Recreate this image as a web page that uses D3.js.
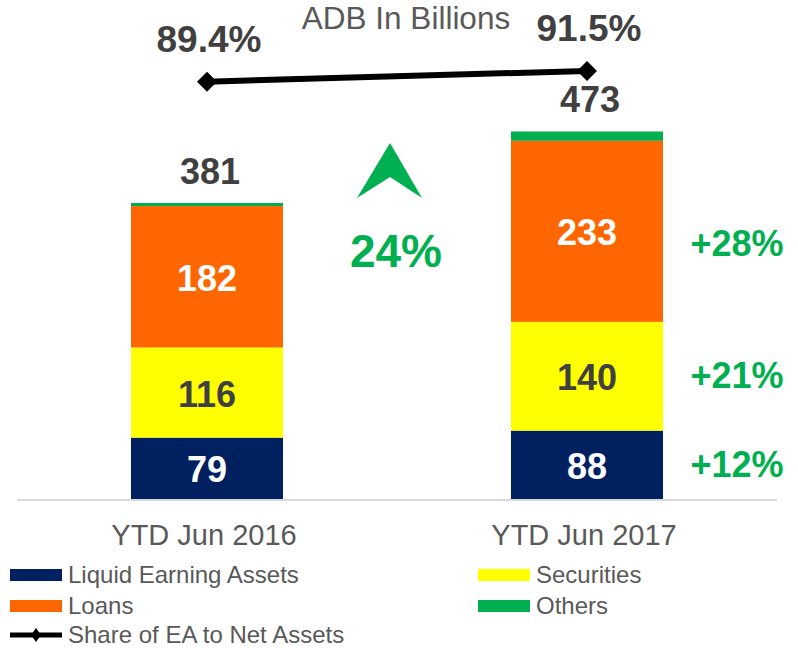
<!DOCTYPE html>
<html>
<head>
<meta charset="utf-8">
<script src="https://cdn.jsdelivr.net/npm/d3@7"></script>
<style>
  body { margin: 0; background: #fff; }
  svg { display: block; }
</style>
</head>
<body>
<script>
const width = 798;
const height = 648;

// data
const periods = ["YTD Jun 2016", "YTD Jun 2017"];
const seriesNames = ["Liquid Earning Assets", "Securities", "Loans", "Others"];
const liquid = [79, 88];
const securities = [116, 140];
const loans = [182, 233];
const others = [4, 12];
const totals = [381, 473];
const shareEA = [89.4, 91.5];
const growthLabels = ["+12%", "+21%", "+28%"];
const totalGrowth = "24%";

const colors = {
  "Liquid Earning Assets": "#002060",
  "Securities": "#ffff00",
  "Loans": "#ff6600",
  "Others": "#00b050"
};
const labelColors = {
  "Liquid Earning Assets": "#fff",
  "Securities": "#404040",
  "Loans": "#fff"
};

const font = "'Liberation Sans', Arial, sans-serif";
const dark = "#404040";
const grey = "#595959";

const rows = periods.map((p, i) => ({
  period: p,
  "Liquid Earning Assets": liquid[i],
  "Securities": securities[i],
  "Loans": loans[i],
  "Others": others[i]
}));

const svg = d3.select("body").append("svg")
  .attr("width", width)
  .attr("height", height)
  .attr("font-family", font);

const x = d3.scaleBand()
  .domain(periods)
  .range([17, 777])
  .paddingInner(0.6)
  .paddingOuter(0.3);

const y = d3.scaleLinear()
  .domain([0, 500])
  .range([499, 110.5]);

const yLine = d3.scaleLinear()
  .domain([80, 100])
  .range([129.6, 27.6]);

const cx = p => x(p) + x.bandwidth() / 2;

const stacked = d3.stack().keys(seriesNames)(rows);

// bars
const layers = svg.append("g").selectAll("g")
  .data(stacked)
  .join("g")
  .attr("fill", d => colors[d.key]);

layers.selectAll("rect")
  .data(d => d)
  .join("rect")
  .attr("x", d => x(d.data.period))
  .attr("width", x.bandwidth())
  .attr("y", d => y(d[1]))
  .attr("height", d => y(d[0]) - y(d[1]));

// segment labels
stacked.filter(s => s.key !== "Others").forEach(s => {
  svg.append("g").selectAll("text")
    .data(s)
    .join("text")
    .attr("x", d => cx(d.data.period))
    .attr("y", d => (y(d[0]) + y(d[1])) / 2 + 14)
    .attr("text-anchor", "middle")
    .attr("font-weight", "bold")
    .attr("font-size", 36)
    .attr("fill", labelColors[s.key])
    .text(d => d[1] - d[0]);
});

// axis line
svg.append("line")
  .attr("x1", 17).attr("x2", 777)
  .attr("y1", y(0) + 1).attr("y2", y(0) + 1)
  .attr("stroke", "#d9d9d9")
  .attr("stroke-width", 2);

// category labels
svg.append("g").selectAll("text")
  .data(periods)
  .join("text")
  .attr("x", d => cx(d) - 3)
  .attr("y", 545)
  .attr("text-anchor", "middle")
  .attr("font-size", 29)
  .attr("fill", grey)
  .text(d => d);

// totals
svg.append("g").selectAll("text")
  .data(totals)
  .join("text")
  .attr("x", (d, i) => cx(periods[i]) + 3)
  .attr("y", d => y(d) - 19)
  .attr("text-anchor", "middle")
  .attr("font-weight", "bold")
  .attr("font-size", 36)
  .attr("fill", dark)
  .text(d => d);

// share line
const diamond = "M0,-10L10,0L0,10L-10,0Z";
const line = d3.line()
  .x((d, i) => cx(periods[i]))
  .y(d => yLine(d));

svg.append("path")
  .datum(shareEA)
  .attr("d", line)
  .attr("fill", "none")
  .attr("stroke", "#000")
  .attr("stroke-width", 6);

svg.append("g").selectAll("path")
  .data(shareEA)
  .join("path")
  .attr("d", diamond)
  .attr("transform", (d, i) => `translate(${cx(periods[i])},${yLine(d)})`)
  .attr("fill", "#000");

svg.append("g").selectAll("text")
  .data(shareEA)
  .join("text")
  .attr("x", (d, i) => cx(periods[i]) + 2)
  .attr("y", d => yLine(d) - 29.5)
  .attr("text-anchor", "middle")
  .attr("font-weight", "bold")
  .attr("font-size", 37)
  .attr("fill", dark)
  .text(d => d3.format(".1f")(d) + "%");

// title
svg.append("text")
  .attr("x", 406)
  .attr("y", 29)
  .attr("text-anchor", "middle")
  .attr("font-size", 31.5)
  .attr("fill", grey)
  .text("ADB In Billions");

// growth arrow + label
svg.append("path")
  .attr("d", "M390,143L422,198L390,177L357,198Z")
  .attr("fill", "#00b050");

svg.append("text")
  .attr("x", 396)
  .attr("y", 267)
  .attr("text-anchor", "middle")
  .attr("font-weight", "bold")
  .attr("font-size", 46)
  .attr("fill", "#00b050")
  .text(totalGrowth);

// segment growth labels (2017)
const growthKeys = ["Liquid Earning Assets", "Securities", "Loans"];
const growthOffset = [12, 12, 25];
svg.append("g").selectAll("text")
  .data(growthKeys)
  .join("text")
  .attr("x", 737)
  .attr("y", (k, i) => {
    const s = stacked.find(s => s.key === k)[1];
    return (y(s[0]) + y(s[1])) / 2 + growthOffset[i];
  })
  .attr("text-anchor", "middle")
  .attr("font-weight", "bold")
  .attr("font-size", 36)
  .attr("fill", "#00b050")
  .text((k, i) => growthLabels[i]);

// legend
const legendItems = [
  { name: "Liquid Earning Assets", x: 10, y: 575, type: "rect" },
  { name: "Securities", x: 478, y: 575, type: "rect" },
  { name: "Loans", x: 10, y: 606, type: "rect" },
  { name: "Others", x: 478, y: 606, type: "rect" },
  { name: "Share of EA to Net Assets", x: 10, y: 635, type: "line" }
];

const legend = svg.append("g").selectAll("g")
  .data(legendItems)
  .join("g")
  .attr("transform", d => `translate(${d.x},${d.y})`);

legend.filter(d => d.type === "rect")
  .append("rect")
  .attr("x", 0).attr("y", -6)
  .attr("width", 52).attr("height", 12)
  .attr("fill", d => colors[d.name]);

legend.filter(d => d.type === "line")
  .append("line")
  .attr("x1", 0).attr("x2", 52)
  .attr("stroke", "#000")
  .attr("stroke-width", 5);

legend.filter(d => d.type === "line")
  .append("path")
  .attr("d", "M0,-7L5,0L0,7L-5,0Z")
  .attr("transform", "translate(26,0)")
  .attr("fill", "#000");

legend.append("text")
  .attr("x", 58)
  .attr("y", 8)
  .attr("font-size", 24)
  .attr("fill", grey)
  .text(d => d.name);
</script>
</body>
</html>
